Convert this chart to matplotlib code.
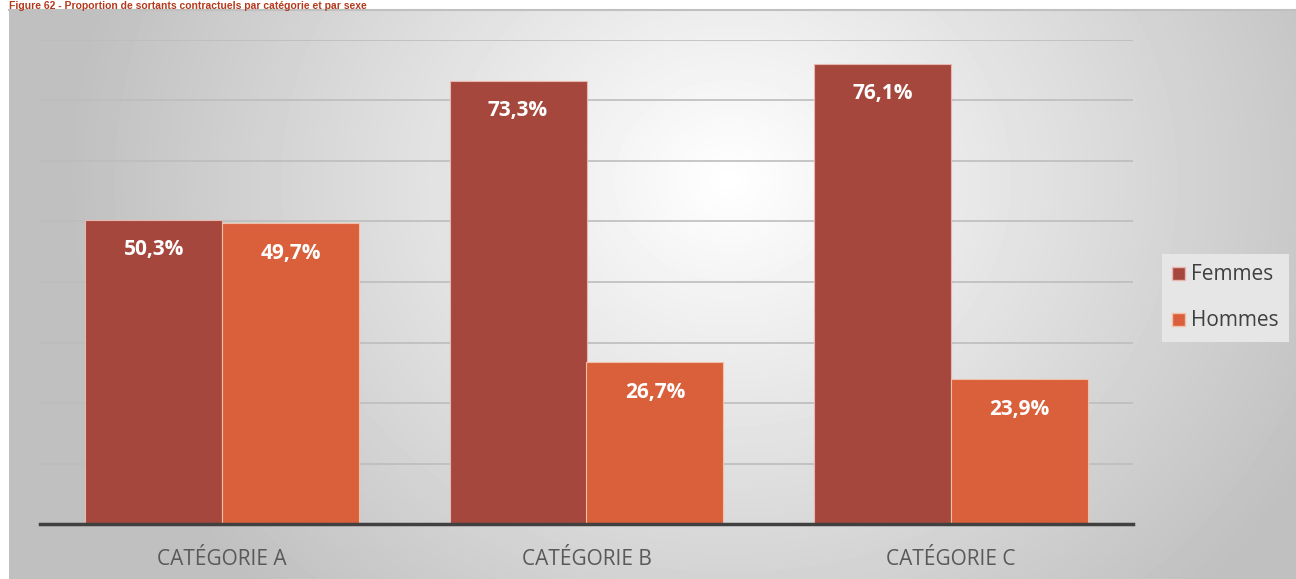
import numpy as np
import matplotlib.pyplot as plt
from matplotlib.patches import Patch

categories = ["CATÉGORIE A", "CATÉGORIE B", "CATÉGORIE C"]
femmes = [50.3, 73.3, 76.1]
hommes = [49.7, 26.7, 23.9]
labels_f = ["50,3%", "73,3%", "76,1%"]
labels_h = ["49,7%", "26,7%", "23,9%"]
title = "Figure 62 - Proportion de sortants contractuels par catégorie et par sexe"

W, H = 1296, 579
fig = plt.figure(figsize=(W / 100, H / 100), dpi=100)

# background with radial gradient
bg = fig.add_axes([9 / W, 0, 1 - 9 / W, 1 - 10 / H])
yy, xx = np.mgrid[0:569, 0:1287]
d = np.sqrt(((xx - 720) / 800.0) ** 2 + ((yy - 170) / 700.0) ** 2)
v = np.clip(1.0 - 0.30 * d, 0.75, 1.0)
bg.imshow(v, cmap="gray", vmin=0, vmax=1, aspect="auto", interpolation="bilinear")
bg.axis("off")
fig.add_artist(plt.Line2D([9 / W, 1], [1 - 10 / H, 1 - 10 / H], color="#c0c0c0", lw=1.5))

fig.text(9 / W, 1 - 1 / H, title, color="#b5391c", fontsize=7.5, fontweight="bold",
         family="Liberation Sans", va="top", ha="left")

ax = fig.add_axes([40 / W, 55 / H, (1133 - 40) / W, 484 / H])
ax.patch.set_alpha(0)
x = np.arange(len(categories))
w = 0.376
b1 = ax.bar(x - 0.188, femmes, w, color="#a5473c", edgecolor="#e8b8b0", linewidth=0.8, zorder=3)
b2 = ax.bar(x + 0.188, hommes, w, color="#d9603a", edgecolor="#f0c0a8", linewidth=0.8, zorder=3)

for bars, labs in ((b1, labels_f), (b2, labels_h)):
    for rect, lab in zip(bars, labs):
        ax.annotate(lab, (rect.get_x() + rect.get_width() / 2, rect.get_height()),
                    xytext=(0, -30), textcoords="offset pixels", ha="center", va="center",
                    color="white", fontsize=15, fontweight="bold", family="Open Sans", zorder=4)

ax.set_xlim(-0.5, 2.5)
ax.set_ylim(0, 80)
ax.set_yticks(np.arange(10, 81, 10))
ax.yaxis.grid(True, color="#bdbdbd", lw=1.2, zorder=0)
ax.tick_params(axis="y", length=0, labelleft=False)
ax.set_xticks(x)
ax.set_xticklabels(categories, fontsize=15, color="#595959", family="Open Sans")
ax.tick_params(axis="x", length=0, pad=18)
for s in ("top", "right", "left"):
    ax.spines[s].set_visible(False)
ax.spines["bottom"].set_color("#404040")
ax.spines["bottom"].set_linewidth(2.5)
ax.spines["bottom"].set_zorder(5)

handles = [Patch(facecolor="#a5473c", edgecolor="#e8b8b0"),
           Patch(facecolor="#d9603a", edgecolor="#f0c0a8")]
leg = fig.legend(handles, ["Femmes", "Hommes"], loc="center left",
                 bbox_to_anchor=(1162 / W, 1 - 298 / H), frameon=True, fancybox=False,
                 facecolor="#e6e6e6", edgecolor="none", framealpha=1,
                 prop={"family": "Open Sans", "size": 15}, labelcolor="#404040",
                 handlelength=0.6, handleheight=0.6, handletextpad=0.3,
                 labelspacing=1.2, borderpad=0.5, borderaxespad=0)

fig.savefig("out.png", dpi=100)
